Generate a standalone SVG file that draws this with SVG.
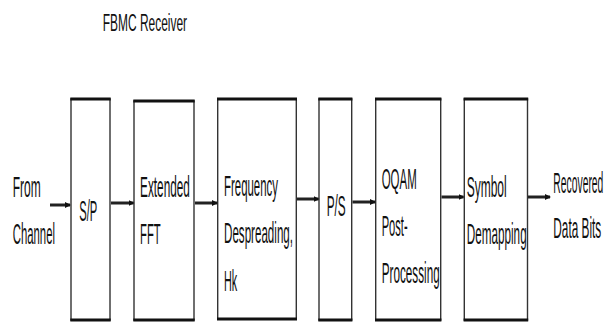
<svg xmlns="http://www.w3.org/2000/svg" width="613" height="322" viewBox="0 0 613 322">
<defs>
<marker id="ah" markerWidth="6" markerHeight="6" refX="5" refY="3" orient="auto" markerUnits="userSpaceOnUse" viewBox="0 0 6 6">
<path d="M0,0 L6,3 L0,6 Z" fill="#111"/>
</marker>
<style>
.box{fill:#fff;stroke:#333;stroke-width:1.4}
.edge{stroke:#111;stroke-width:3}
.t{font-family:"Liberation Sans",Arial,sans-serif;font-size:30px;fill:#111}
.ti{font-family:"Liberation Sans",Arial,sans-serif;font-size:23px;fill:#111}
.c{stroke:#222;stroke-width:3;fill:none;marker-end:url(#ah)}
</style>
</defs>
<rect width="613" height="322" fill="#fff"/>
<text class="ti" transform="matrix(0.52,0,0,1,102.7,31)">FBMC Receiver</text>
<g id="input">
<text class="t" transform="matrix(0.40,0,0,1,12.7,197)">From</text>
<text class="t" transform="matrix(0.379,0,0,1,12.7,244)">Channel</text>
</g>
<g id="sp">
<rect class="box" x="71" y="99" width="39" height="221"/>
<line class="edge" x1="70.3" y1="99" x2="110.7" y2="99"/>
<line class="edge" x1="70.3" y1="320" x2="110.7" y2="320"/>
<text class="t" transform="matrix(0.372,0,0,1,79.3,221)">S/P</text>
</g>
<g id="fft">
<rect class="box" x="134" y="101" width="60" height="219"/>
<line class="edge" x1="133.3" y1="101" x2="194.7" y2="101"/>
<line class="edge" x1="133.3" y1="320" x2="194.7" y2="320"/>
<text class="t" transform="matrix(0.394,0,0,1,140,197)">Extended</text>
<text class="t" transform="matrix(0.376,0,0,1,140,244)">FFT</text>
</g>
<g id="despread">
<rect class="box" x="217.7" y="99" width="78.6" height="220"/>
<line class="edge" x1="217" y1="99" x2="297" y2="99"/>
<line class="edge" x1="217" y1="319" x2="297" y2="319"/>
<text class="t" transform="matrix(0.381,0,0,1,224,196)">Frequency</text>
<text class="t" transform="matrix(0.387,0,0,1,224,243)">Despreading,</text>
<text class="t" transform="matrix(0.36,0,0,1,224,291)">Hk</text>
</g>
<g id="ps">
<rect class="box" x="319" y="99" width="32.7" height="221"/>
<line class="edge" x1="318.3" y1="99" x2="352.4" y2="99"/>
<line class="edge" x1="318.3" y1="320" x2="352.4" y2="320"/>
<text class="t" transform="matrix(0.393,0,0,1,326.7,216)">P/S</text>
</g>
<g id="oqam">
<rect class="box" x="375.7" y="99" width="65" height="221"/>
<line class="edge" x1="375" y1="99" x2="441.4" y2="99"/>
<line class="edge" x1="375" y1="320" x2="441.4" y2="320"/>
<text class="t" transform="matrix(0.382,0,0,1,381.7,189)">OQAM</text>
<text class="t" transform="matrix(0.371,0,0,1,381.7,236)">Post-</text>
<text class="t" transform="matrix(0.391,0,0,1,381.7,283)">Processing</text>
</g>
<g id="demap">
<rect class="box" x="464.3" y="99" width="63.2" height="221"/>
<line class="edge" x1="463.6" y1="99" x2="528.2" y2="99"/>
<line class="edge" x1="463.6" y1="320" x2="528.2" y2="320"/>
<text class="t" transform="matrix(0.40,0,0,1,466.7,197)">Symbol</text>
<text class="t" transform="matrix(0.391,0,0,1,466.7,244)">Demapping</text>
</g>
<g id="output">
<text class="t" transform="matrix(0.345,0,0,1,553.3,193)">Recovered</text>
<text class="t" transform="matrix(0.394,0,0,1,553.3,238)">Data Bits</text>
</g>
<g id="connectors">
<line class="c" x1="50" y1="205" x2="70" y2="205"/>
<line class="c" x1="111" y1="203" x2="133.5" y2="203"/>
<line class="c" x1="195" y1="203" x2="217" y2="203"/>
<line class="c" x1="297" y1="199" x2="318.5" y2="199"/>
<line class="c" x1="352.5" y1="202" x2="375" y2="202"/>
<line class="c" x1="441.5" y1="197" x2="463.5" y2="197"/>
<line class="c" x1="528" y1="197" x2="550" y2="197"/>
</g>
</svg>
